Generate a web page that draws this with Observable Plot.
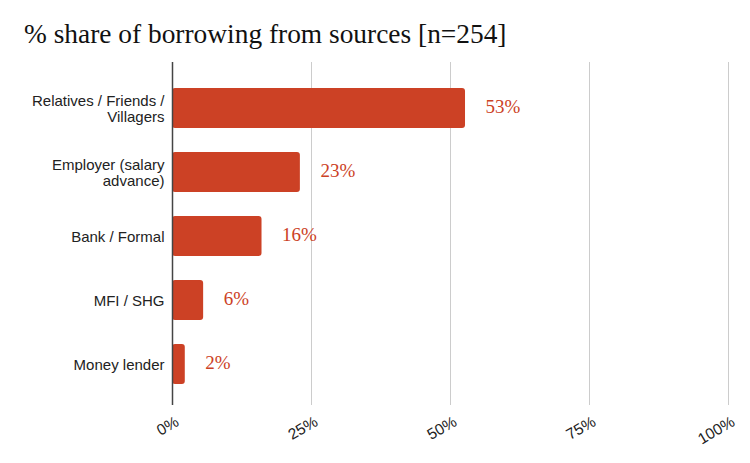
<!DOCTYPE html>
<html>
<head>
<meta charset="utf-8">
<script src="https://cdn.jsdelivr.net/npm/d3@7"></script>
<script src="https://cdn.jsdelivr.net/npm/@observablehq/plot@0.6"></script>
<style>
  html, body { margin: 0; padding: 0; background: #fff; }
  #title { height: 58px; box-sizing: border-box; padding: 19px 0 0 24px; font-family: "Liberation Serif", serif; font-size: 27.4px; color: #111; line-height: 30px; }
</style>
</head>
<body>
<div id="title">% share of borrowing from sources [n=254]</div>
<div id="chart"></div>
<script>
const categories = ["Relatives / Friends /\nVillagers", "Employer (salary\nadvance)", "Bank / Formal", "MFI / SHG", "Money lender"];
const shares = [52.7, 23.0, 16.1, 5.6, 2.3];
const labels = ["53%", "23%", "16%", "6%", "2%"];
const xTicks = [0, 25, 50, 75, 100];

const data = categories.map((c, i) => ({category: c, share: shares[i], label: labels[i]}));
const red = "#cc4125";

const chart = Plot.plot({
  width: 750,
  height: 405,
  marginLeft: 172,
  marginRight: 22,
  marginTop: 4,
  marginBottom: 58,
  style: {fontFamily: "'Liberation Sans', Arial, sans-serif", fontSize: "14px", color: "#222"},
  x: {domain: [0, 100], label: null},
  y: {domain: categories, range: [18, 338], padding: 0, axis: null},
  marks: [
    Plot.gridX(xTicks.slice(1), {stroke: "#ccc", strokeOpacity: 1, strokeWidth: 1}),
    Plot.barX(data, {x: "share", y: "category", fill: red, insetTop: 12, insetBottom: 12, rx: 3}),
    Plot.ruleX([0], {stroke: "#444", strokeWidth: 1.5}),
    Plot.axisX(xTicks, {tickFormat: d => d + "%", label: null, tickSize: 0, tickPadding: 15, tickRotate: -30, fontSize: 15.5, fill: "#222", dx: 5}),
    Plot.text(data, {x: 0, y: "category", text: "category", textAnchor: "end", dx: -8, lineHeight: 1.07, fontSize: 15, fill: "#222"}),
    Plot.text(data, {x: "share", y: "category", text: "label", textAnchor: "start", dx: 20, dy: -1.5, fill: red, fontSize: 19, fontFamily: "'Liberation Serif', serif"})
  ]
});
document.getElementById("chart").appendChild(chart);
</script>
</body>
</html>
